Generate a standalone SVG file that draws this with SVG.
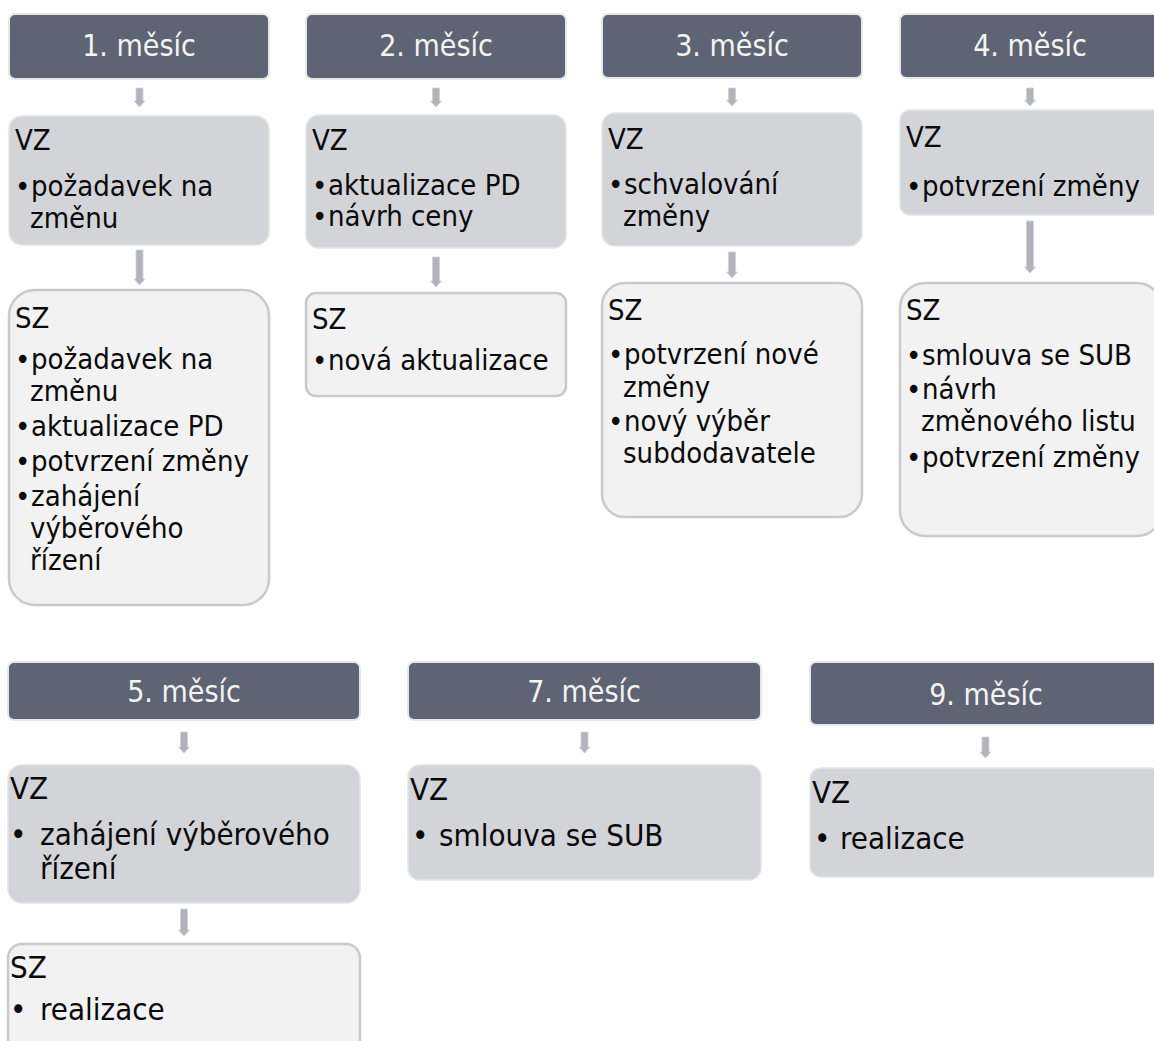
<svg xmlns="http://www.w3.org/2000/svg" width="1154" height="1041" viewBox="0 0 1154 1041">
<style>
.hd{fill:#5e6473;stroke:#e6e7e9;stroke-width:2}
.vz{fill:#d3d4d8;stroke:#e4e5e7;stroke-width:1.5}
.sz{fill:#f2f2f2;stroke:#c9cacd;stroke-width:2.5}
.ht{font-family:"DejaVu Sans Condensed","Liberation Sans",sans-serif;font-size:30px;fill:#f4f4f4;text-anchor:middle}
.t{font-family:"DejaVu Sans Condensed","Liberation Sans",sans-serif;font-size:29px;fill:#0a0a0a}
.b{font-family:"DejaVu Sans Condensed","Liberation Sans",sans-serif;font-size:31px;fill:#0a0a0a}
.ar{fill:#b1b4ba;stroke:#d0d2d6;stroke-width:0.8}
</style>
<rect width="1154" height="1041" fill="#ffffff"/>
<g id="connectors">
<polygon class="ar" points="136,88 143,88 143,101 145,101 139.5,107 134,101 136,101"/>
<polygon class="ar" points="136,250 143,250 143,279 145,279 139.5,285 134,279 136,279"/>
<polygon class="ar" points="432.5,88 439.5,88 439.5,101 441.5,101 436,107 430.5,101 432.5,101"/>
<polygon class="ar" points="432.5,257 439.5,257 439.5,281 441.5,281 436,287 430.5,281 432.5,281"/>
<polygon class="ar" points="728.5,88 735.5,88 735.5,100 737.5,100 732,106 726.5,100 728.5,100"/>
<polygon class="ar" points="728.5,252 735.5,252 735.5,272 737.5,272 732,278 726.5,272 728.5,272"/>
<polygon class="ar" points="1026.5,88 1033.5,88 1033.5,100 1035.5,100 1030,106 1024.5,100 1026.5,100"/>
<polygon class="ar" points="1026.5,221 1033.5,221 1033.5,267 1035.5,267 1030,273 1024.5,267 1026.5,267"/>
<polygon class="ar" points="180.5,732 187.5,732 187.5,747 189.5,747 184,753 178.5,747 180.5,747"/>
<polygon class="ar" points="180.5,909 187.5,909 187.5,930 189.5,930 184,936 178.5,930 180.5,930"/>
<polygon class="ar" points="581,732 588,732 588,747 590,747 584.5,753 579,747 581,747"/>
<polygon class="ar" points="982,737 989,737 989,752 991,752 985.5,758 980,752 982,752"/>
</g>
<g id="h1"><rect class="hd" x="9" y="14" width="260" height="65" rx="6"/><text class="ht" x="139" y="56">1. měsíc</text></g>
<g id="vz1"><rect class="vz" x="9" y="116" width="260" height="129" rx="13"/>
<text class="t" x="15" y="150">VZ</text>
<text class="t" x="15" y="196">•</text><text class="t" x="31" y="196">požadavek na</text>
<text class="t" x="30" y="228">změnu</text></g>
<g id="sz1"><rect class="sz" x="9" y="290" width="260" height="315" rx="26"/>
<text class="t" x="15" y="328">SZ</text>
<text class="t" x="15" y="369">•</text><text class="t" x="31" y="369">požadavek na</text>
<text class="t" x="30" y="401">změnu</text>
<text class="t" x="15" y="436">•</text><text class="t" x="31" y="436">aktualizace PD</text>
<text class="t" x="15" y="471">•</text><text class="t" x="31" y="471">potvrzení změny</text>
<text class="t" x="15" y="506">•</text><text class="t" x="31" y="506">zahájení</text>
<text class="t" x="30" y="538">výběrového</text>
<text class="t" x="30" y="570">řízení</text></g>
<g id="h2"><rect class="hd" x="306" y="14" width="260" height="65" rx="6"/><text class="ht" x="436" y="56">2. měsíc</text></g>
<g id="vz2"><rect class="vz" x="306" y="115" width="260" height="133" rx="13"/>
<text class="t" x="312" y="150">VZ</text>
<text class="t" x="312" y="195">•</text><text class="t" x="328" y="195">aktualizace PD</text>
<text class="t" x="312" y="226">•</text><text class="t" x="328" y="226">návrh ceny</text></g>
<g id="sz2"><rect class="sz" x="306" y="293" width="260" height="103" rx="10"/>
<text class="t" x="312" y="329">SZ</text>
<text class="t" x="312" y="370">•</text><text class="t" x="328" y="370">nová aktualizace</text></g>
<g id="h3"><rect class="hd" x="602" y="14" width="260" height="64" rx="6"/><text class="ht" x="732" y="56">3. měsíc</text></g>
<g id="vz3"><rect class="vz" x="602" y="113" width="260" height="133" rx="13"/>
<text class="t" x="608" y="149">VZ</text>
<text class="t" x="608" y="194">•</text><text class="t" x="624" y="194">schvalování</text>
<text class="t" x="623" y="226">změny</text></g>
<g id="sz3"><rect class="sz" x="602" y="283" width="260" height="234" rx="23"/>
<text class="t" x="608" y="320">SZ</text>
<text class="t" x="608" y="364">•</text><text class="t" x="624" y="364">potvrzení nové</text>
<text class="t" x="623" y="397">změny</text>
<text class="t" x="608" y="431">•</text><text class="t" x="624" y="431">nový výběr</text>
<text class="t" x="623" y="463">subdodavatele</text></g>
<g id="h4"><rect class="hd" x="900" y="14" width="262" height="64" rx="6"/><text class="ht" x="1030" y="56">4. měsíc</text></g>
<g id="vz4"><rect class="vz" x="900" y="110" width="262" height="105" rx="10"/>
<text class="t" x="906" y="147">VZ</text>
<text class="t" x="906" y="196">•</text><text class="t" x="922" y="196">potvrzení změny</text></g>
<g id="sz4"><rect class="sz" x="900" y="283" width="262" height="253" rx="25"/>
<text class="t" x="906" y="320">SZ</text>
<text class="t" x="906" y="365">•</text><text class="t" x="922" y="365">smlouva se SUB</text>
<text class="t" x="906" y="399">•</text><text class="t" x="922" y="399">návrh</text>
<text class="t" x="921" y="431">změnového listu</text>
<text class="t" x="906" y="467">•</text><text class="t" x="922" y="467">potvrzení změny</text></g>
<g id="h5"><rect class="hd" x="8" y="662" width="352" height="58" rx="6"/><text class="ht" x="184" y="702">5. měsíc</text></g>
<g id="vz5"><rect class="vz" x="8" y="765" width="352" height="138" rx="14"/>
<text class="b" x="10" y="799">VZ</text>
<text class="b" x="10" y="845">•</text><text class="b" x="40" y="845">zahájení výběrového</text>
<text class="b" x="40" y="879">řízení</text></g>
<g id="sz5"><rect class="sz" x="8" y="944" width="352" height="120" rx="14"/>
<text class="b" x="10" y="978">SZ</text>
<text class="b" x="10" y="1020">•</text><text class="b" x="40" y="1020">realizace</text></g>
<g id="h7"><rect class="hd" x="408" y="662" width="353" height="58" rx="6"/><text class="ht" x="584" y="702">7. měsíc</text></g>
<g id="vz7"><rect class="vz" x="408" y="765" width="353" height="115" rx="12"/>
<text class="b" x="410" y="800">VZ</text>
<text class="b" x="412" y="846">•</text><text class="b" x="439" y="846">smlouva se SUB</text></g>
<g id="h9"><rect class="hd" x="810" y="662" width="352" height="63" rx="6"/><text class="ht" x="986" y="705">9. měsíc</text></g>
<g id="vz9"><rect class="vz" x="810" y="768" width="352" height="109" rx="11"/>
<text class="b" x="812" y="803">VZ</text>
<text class="b" x="814" y="849">•</text><text class="b" x="840" y="849">realizace</text></g>
</svg>
